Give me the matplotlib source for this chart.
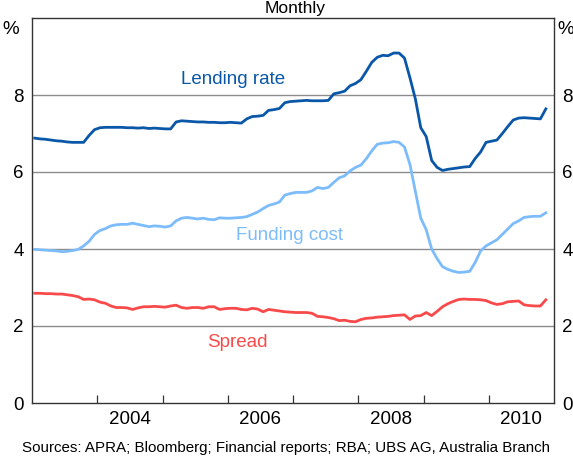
import numpy as np
import pandas as pd
import matplotlib
matplotlib.use("Agg")
from matplotlib import pyplot as plt

plt.rcParams['font.family'] = ['Liberation Sans', 'DejaVu Sans']

# monthly observations, Jan 2003 onwards
months = pd.date_range("2003-01-01", periods=95, freq="MS")

lending_rate = [
    6.88, 6.86, 6.85, 6.83, 6.81, 6.80, 6.78, 6.77, 6.77, 6.77, 6.95, 7.10,
    7.15, 7.16, 7.16, 7.16, 7.16, 7.15, 7.15, 7.14, 7.15, 7.13, 7.14, 7.13,
    7.12, 7.12, 7.30, 7.33, 7.32, 7.31, 7.30, 7.30, 7.29, 7.29, 7.28, 7.28,
    7.29, 7.28, 7.27, 7.38, 7.44, 7.45, 7.47, 7.60, 7.62, 7.65, 7.80, 7.83,
    7.84, 7.85, 7.86, 7.85, 7.85, 7.85, 7.86, 8.03, 8.06, 8.10, 8.24, 8.30,
    8.40, 8.62, 8.85, 8.98, 9.03, 9.02, 9.09, 9.09, 8.96, 8.45, 7.90, 7.15,
    6.92, 6.30, 6.12, 6.04, 6.07, 6.09, 6.11, 6.13, 6.14, 6.35, 6.52, 6.77,
    6.80, 6.83, 7.00, 7.18, 7.35, 7.40, 7.41, 7.40, 7.39, 7.38, 7.64,
]

funding_cost = [
    3.99, 3.98, 3.97, 3.96, 3.95, 3.93, 3.94, 3.96, 3.99, 4.08, 4.20, 4.38,
    4.48, 4.53, 4.60, 4.63, 4.64, 4.64, 4.67, 4.64, 4.61, 4.58, 4.60, 4.59,
    4.57, 4.60, 4.73, 4.80, 4.82, 4.80, 4.78, 4.80, 4.77, 4.76, 4.81, 4.80,
    4.80, 4.81, 4.82, 4.84, 4.90, 4.96, 5.05, 5.13, 5.17, 5.22, 5.40, 5.44,
    5.47, 5.47, 5.47, 5.51, 5.60, 5.57, 5.60, 5.73, 5.85, 5.90, 6.03, 6.12,
    6.18, 6.35, 6.55, 6.72, 6.75, 6.76, 6.79, 6.77, 6.65, 6.20, 5.50, 4.80,
    4.50, 4.00, 3.75, 3.54, 3.47, 3.42, 3.39, 3.40, 3.42, 3.65, 3.95, 4.08,
    4.16, 4.24, 4.38, 4.52, 4.66, 4.73, 4.82, 4.84, 4.85, 4.85, 4.94,
]

spread = [
    2.85, 2.85, 2.84, 2.84, 2.83, 2.83, 2.81, 2.79, 2.76, 2.69, 2.70, 2.68,
    2.62, 2.59, 2.52, 2.48, 2.48, 2.47, 2.43, 2.47, 2.50, 2.50, 2.51, 2.50,
    2.49, 2.52, 2.54, 2.48, 2.46, 2.48, 2.48, 2.46, 2.50, 2.50, 2.43, 2.45,
    2.46, 2.46, 2.43, 2.42, 2.46, 2.44, 2.37, 2.43, 2.41, 2.39, 2.37, 2.36,
    2.35, 2.35, 2.35, 2.33, 2.25, 2.24, 2.22, 2.19, 2.14, 2.15, 2.12, 2.11,
    2.17, 2.20, 2.21, 2.23, 2.24, 2.25, 2.27, 2.28, 2.29, 2.17, 2.26, 2.27,
    2.35, 2.27, 2.38, 2.50, 2.58, 2.64, 2.69, 2.70, 2.69, 2.69, 2.68, 2.66,
    2.60, 2.56, 2.58, 2.63, 2.64, 2.65, 2.55, 2.53, 2.52, 2.52, 2.68,
]

year_labels = ["2004", "2006", "2008", "2010"]
y_ticks = [0, 2, 4, 6, 8]

LENDING = "#0a57a8"
FUNDING = "#7dbcfb"
SPREAD = "#f84a4a"
FS = 13.5

# decimal years, plotted mid-month
x = months.year + (months.month - 0.5) / 12.0

fig = plt.figure(figsize=(5.73, 4.57), dpi=100)
ax = fig.add_axes([32 / 573, 1 - 403 / 457, 522 / 573, 385 / 457])

for y in [2, 4, 6, 8]:
    ax.axhline(y, color="#8c8c8c", lw=1.0, zorder=1)

ax.plot(x, lending_rate, color=LENDING, lw=2.0, zorder=3)
ax.plot(x, funding_cost, color=FUNDING, lw=2.0, zorder=3)
ax.plot(x, spread, color=SPREAD, lw=2.0, zorder=3)

ax.set_xlim(2003, 2011)
ax.set_ylim(0, 10)

# year boundaries as inward ticks, labels centred in the year
ax.set_xticks(np.arange(2004, 2011))
ax.set_xticklabels([])
ax.set_xticks([int(y) + 0.5 for y in year_labels], minor=True)
ax.set_xticklabels(year_labels, minor=True)
ax.tick_params(axis="x", which="major", direction="in", length=6, width=0.9, color="#333333")
ax.tick_params(axis="x", which="minor", length=0, pad=6, labelsize=FS)

ax.set_yticks(y_ticks)
ax.tick_params(axis="y", which="both", length=0, pad=6, labelsize=FS,
               left=True, right=True, labelleft=True, labelright=True)

for s in ax.spines.values():
    s.set_color("#333333")
    s.set_linewidth(1.0)

ax.text(-0.025, 0.97, "%", transform=ax.transAxes, ha="right", va="center", fontsize=FS)
ax.text(1.007, 0.97, "%", transform=ax.transAxes, ha="left", va="center", fontsize=FS)

ax.text(2006.08, 8.4, "Lending rate", color=LENDING, ha="center", va="center", fontsize=FS)
ax.text(2006.95, 4.34, "Funding cost", color=FUNDING, ha="center", va="center", fontsize=FS)
ax.text(2006.14, 1.56, "Spread", color=SPREAD, ha="center", va="center", fontsize=FS)

fig.text(0.515, 0.998, "Monthly", ha="center", va="top", fontsize=12.5)
fig.text(0.5, 1 - 452 / 457, "Sources: APRA; Bloomberg; Financial reports; RBA; UBS AG, Australia Branch",
         ha="center", va="baseline", fontsize=10.9)

fig.savefig("out.png", dpi=100)
